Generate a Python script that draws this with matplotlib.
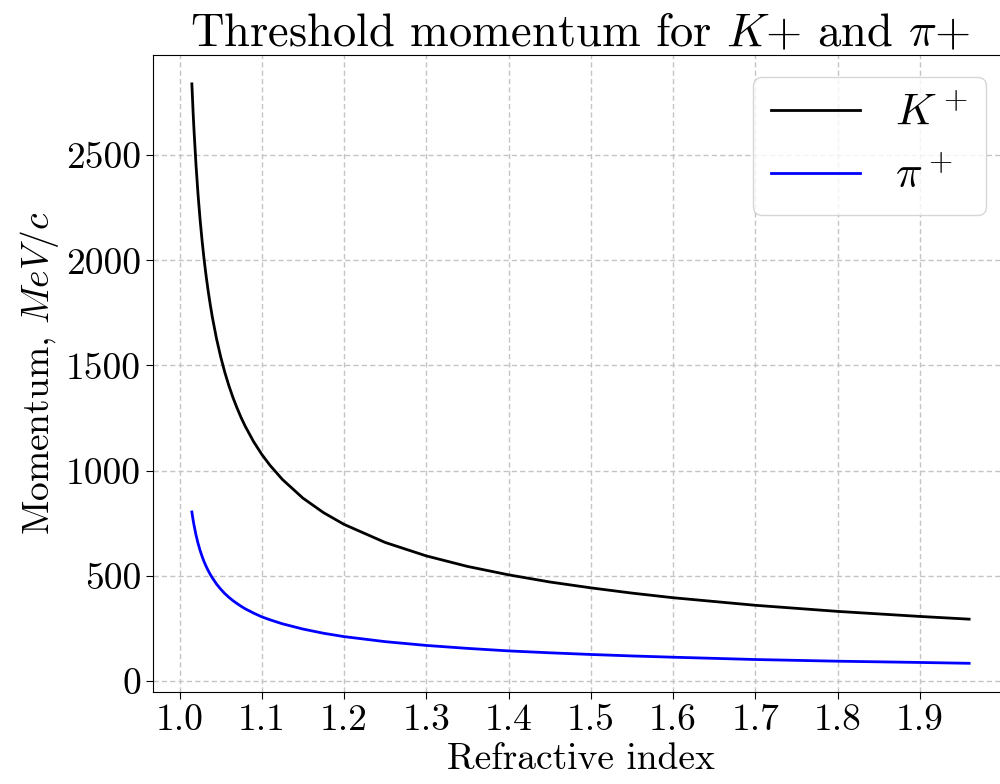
import matplotlib
matplotlib.use("Agg")
import matplotlib.pyplot as plt

# values (threshold momentum vs refractive index)
refr_index = [1.015, 1.0165, 1.0175, 1.02, 1.0225, 1.025, 1.0275, 1.03,
              1.0325, 1.035, 1.0375, 1.04, 1.045, 1.05, 1.055, 1.06, 1.065,
              1.07, 1.075, 1.08, 1.09, 1.1, 1.11, 1.125, 1.15, 1.175, 1.2,
              1.25, 1.3, 1.35, 1.4, 1.45, 1.5, 1.55, 1.6, 1.7, 1.8, 1.9, 1.96]
kaon_p = [2840, 2706, 2627, 2456, 2314, 2194, 2091, 2000,
          1921, 1850, 1786, 1728, 1627, 1542, 1468, 1404, 1347,
          1297, 1251, 1210, 1138, 1077, 1025, 958, 869, 800, 744,
          658, 594, 544, 504, 470, 442, 417, 395, 359, 330, 306, 293]
pion_p = [803, 765, 743, 694, 654, 620, 591, 565,
          543, 523, 505, 489, 460, 436, 415, 397, 381,
          367, 354, 342, 322, 304, 290, 271, 246, 226, 210,
          186, 168, 154, 142, 133, 125, 118, 112, 101, 93, 87, 83]
x_ticks = [1.0, 1.1, 1.2, 1.3, 1.4, 1.5, 1.6, 1.7, 1.8, 1.9]
y_ticks = [0, 500, 1000, 1500, 2000, 2500]

plt.rcParams["font.family"] = "serif"
plt.rcParams["font.serif"] = ["cmr10"]
plt.rcParams["mathtext.fontset"] = "cm"
plt.rcParams["axes.formatter.use_mathtext"] = True

fig = plt.figure(figsize=(10, 7.84), dpi=100)
ax = fig.add_axes([0.153, 0.117, 0.855, 0.813])

ax.plot(refr_index, kaon_p, color="black", lw=2, label=r"$K^+$",
        solid_joinstyle="round")
ax.plot(refr_index, pion_p, color="blue", lw=2, label=r"$\pi^+$",
        solid_joinstyle="round")

ax.set_xticks(x_ticks)
ax.set_xticklabels([f"{t:.1f}" for t in x_ticks])
ax.set_yticks(y_ticks)
ax.set_yticklabels([str(t) for t in y_ticks])
ax.tick_params(labelsize=27, length=5)
ax.grid(True, linestyle=(0, (3.7, 2.3)), color="#c4c4c4", linewidth=1)

ax.set_xlabel("Refractive index", fontsize=27, labelpad=4)
ax.set_ylabel(r"Momentum, $MeV/c$", fontsize=27)
ax.set_title(r"Threshold momentum for $K{+}$ and $\pi{+}$", fontsize=33.5)
ax.legend(loc="upper right", fontsize=32)

fig.savefig("out.png", dpi=100)
